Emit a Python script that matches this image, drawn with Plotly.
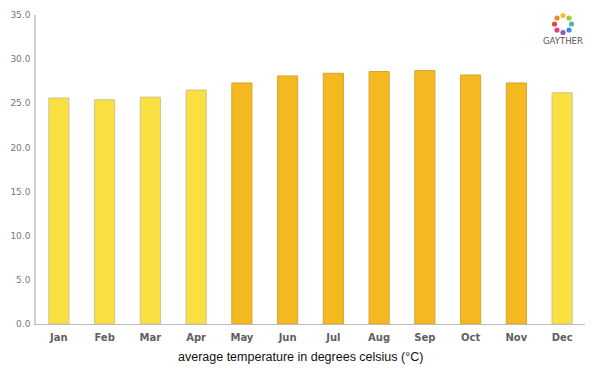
import plotly.graph_objects as go
import math

months = ["Jan", "Feb", "Mar", "Apr", "May", "Jun", "Jul", "Aug", "Sep", "Oct", "Nov", "Dec"]
temps = [25.6, 25.4, 25.7, 26.5, 27.3, 28.1, 28.4, 28.6, 28.7, 28.2, 27.3, 26.2]
warm = [False, False, False, False, True, True, True, True, True, True, True, False]

LIGHT = "#F9E040"
DARK = "#F4B820"
colors = [DARK if w else LIGHT for w in warm]
edges = ["#D6A52E" if w else "#CFC48E" for w in warm]

# page has 8px body margin; figure sized to fit the 600x375 window
OFF = 8
W, H = 592, 367
ml, mr, mt, mb = 28, 15, 7, 51

fig = go.Figure(go.Bar(
    x=months, y=temps,
    marker=dict(color=colors, line=dict(color=edges, width=1)),
    width=0.44,
    hoverinfo="x+y",
))

pw = W - ml - mr
ph = H - mt - mb

def px2paper(x, y):
    # x, y in screen pixels
    x -= OFF
    y -= OFF
    return (x - ml) / pw, (H - mb - y) / ph

# Logo ring
shapes = []
ring_colors = ["#F2C12E", "#9CCB3B", "#4DB8A8", "#3B8FD0", "#8E5BB5", "#E6417A", "#E9453C", "#F08A24"]
cx, cy, r = 563, 24, 8.5
for i, c in enumerate(ring_colors):
    a = -math.pi / 2 + i * 2 * math.pi / len(ring_colors)
    x0, y0 = cx + r * math.cos(a), cy + r * math.sin(a)
    px0, py0 = px2paper(x0 - 2.6, y0 + 2.6)
    px1, py1 = px2paper(x0 + 2.6, y0 - 2.6)
    shapes.append(dict(type="circle", xref="paper", yref="paper",
                       x0=px0, y0=py0, x1=px1, y1=py1,
                       fillcolor=c, line=dict(width=0)))

lx, ly = px2paper(563, 41)
tx, ty = px2paper(300, 357)

fig.update_layout(
    width=W, height=H,
    margin=dict(l=ml, r=mr, t=mt, b=mb, autoexpand=False),
    paper_bgcolor="white", plot_bgcolor="white",
    showlegend=False,
    xaxis=dict(
        automargin=False,
        showline=True, linecolor="#BDBDBD", linewidth=1,
        showgrid=False, ticks="",
        tickfont=dict(family="DejaVu Sans", size=10, color="#606060", weight="bold"),
        ticklabelstandoff=4,
    ),
    yaxis=dict(
        automargin=False,
        range=[0, 35], dtick=5, tickformat=".1f",
        showline=True, linecolor="#D0D0D0", linewidth=1.5,
        showgrid=False, zeroline=False, ticks="",
        tickfont=dict(family="DejaVu Sans", size=9, color="#777777"),
        ticklabelstandoff=2,
    ),
    shapes=shapes,
    annotations=[
        dict(text="average temperature in degrees celsius (°C)", xref="paper", yref="paper",
             x=tx, y=ty, showarrow=False, xanchor="center", yanchor="middle",
             font=dict(family="Liberation Sans, Arial", size=12.5, color="#111111")),
        dict(text="GAYTHER", xref="paper", yref="paper", x=lx, y=ly,
             showarrow=False, xanchor="center", yanchor="middle",
             font=dict(family="DejaVu Sans", size=8.5, color="#555555")),
    ],
)

fig.write_html("out.html")
